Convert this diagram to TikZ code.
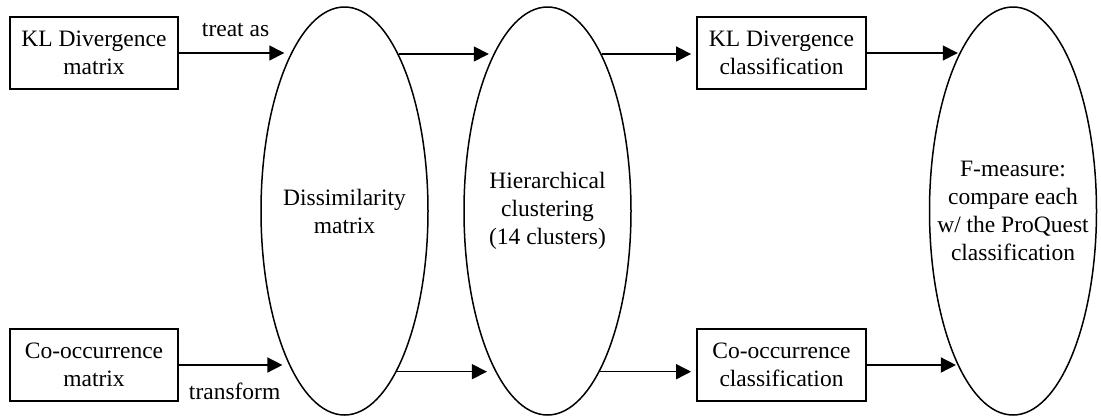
\documentclass[tikz,border=0pt]{standalone}
\usepackage{fontspec}
\setmainfont{Liberation Serif}
\usetikzlibrary{shapes.geometric,arrows.meta}
\begin{document}
\begin{tikzpicture}[x=1pt,y=-1pt,
  every node/.style={font=\fontsize{23.5}{28}\selectfont, align=center},
  box/.style={draw, line width=1.8pt, minimum width=168pt, minimum height=72pt, inner sep=0pt},
  oval/.style={draw, ellipse, line width=1.5pt, minimum width=167pt, minimum height=408pt, inner sep=0pt},
  arr/.style={line width=1.5pt, -{Triangle[length=15pt,width=15pt]}}
]
\useasboundingbox (0,0) rectangle (1101,416);
% boxes
\node[box] (kl) at (94,53) {KL Divergence\\matrix};
\node[box] (co) at (94,365) {Co-occurrence\\matrix};
\node[box, minimum width=169pt] (klc) at (781.5,53) {KL Divergence\\classification};
\node[box, minimum width=169pt] (coc) at (781.5,365) {Co-occurrence\\classification};
% ellipses
\node[oval] (dis) at (344.5,211) {};
\node (dist) at (dis.center) {Dissimilarity\\matrix};
\node[oval] (hc) at (547.5,211) {};
\node (hct) at (hc.center) {Hierarchical\\clustering\\(14 clusters)};
\node[oval] (fm) at (1013,211) {};
\node (fmt) at (fm.center) {F-measure:\\compare each\\w/ the ProQuest\\classification};
% arrows
\draw[arr, shorten >=8pt] (kl.east) -- (kl.east -| dis.108.5)
  node[midway, anchor=base, yshift=17pt] (lt) {treat as};
\draw[arr, shorten >=8pt] (co.east) -- (co.east -| dis.251.5)
  node[midway, anchor=base, yshift=-34pt] (lb) {transform};
\draw[arr, shorten >=6.5pt] (dis.71.5) -- (dis.71.5 -| hc.108.5);
\draw[arr, shorten >=6.5pt] (dis.288.5) -- (dis.288.5 -| hc.251.5);
\draw[arr, shorten >=5pt] (hc.71.5) -- (hc.71.5 -| klc.west);
\draw[arr, shorten >=5pt] (hc.288.5) -- (hc.288.5 -| coc.west);
\draw[arr, shorten >=3pt] (klc.east) -- (klc.east -| fm.108.5);
\draw[arr, shorten >=3pt] (coc.east) -- (coc.east -| fm.251.5);
\end{tikzpicture}
\end{document}
